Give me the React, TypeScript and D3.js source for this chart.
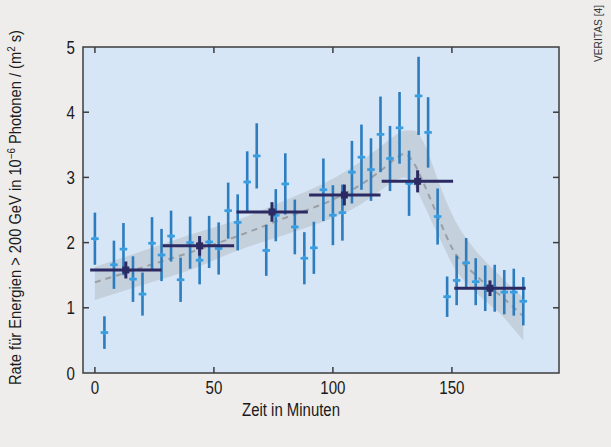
import React from "react";
import * as d3 from "d3";

// Light (4-minute) measurements
const lightTime = [0, 4, 8, 12, 16, 20, 24, 28, 32, 36, 40, 44, 48, 52, 56, 60, 64, 68, 72, 76, 80, 84, 88, 92, 96, 100, 104, 108, 112, 116, 120, 124, 128, 132, 136, 140, 144, 148, 152, 156, 160, 164, 168, 172, 176, 180];
const lightRate = [2.06, 0.62, 1.66, 1.90, 1.44, 1.21, 1.99, 1.81, 2.10, 1.43, 2.00, 1.73, 2.01, 1.91, 2.49, 2.31, 2.93, 3.33, 1.88, 2.42, 2.90, 2.24, 1.76, 1.92, 2.81, 2.42, 2.46, 3.08, 3.31, 3.12, 3.66, 3.29, 3.76, 2.91, 4.25, 3.69, 2.40, 1.17, 1.42, 1.69, 1.40, 1.30, 1.30, 1.24, 1.24, 1.10];
const lightErr = [0.40, 0.25, 0.37, 0.40, 0.35, 0.33, 0.40, 0.40, 0.39, 0.34, 0.40, 0.37, 0.40, 0.40, 0.43, 0.43, 0.47, 0.50, 0.39, 0.40, 0.47, 0.42, 0.40, 0.40, 0.48, 0.46, 0.43, 0.48, 0.50, 0.48, 0.58, 0.50, 0.55, 0.50, 0.60, 0.54, 0.43, 0.31, 0.38, 0.38, 0.36, 0.35, 0.36, 0.34, 0.36, 0.37];

// Dark (30-minute) bins
const binTime = [13, 44, 74.4, 104.8, 135.6, 166];
const binStart = [-2, 28.5, 59.5, 90, 120.5, 151];
const binEnd = [28, 58.5, 89.5, 120, 150.5, 181];
const binRate = [1.58, 1.95, 2.47, 2.73, 2.94, 1.30];
const binErr = [0.13, 0.15, 0.15, 0.16, 0.17, 0.12];

// Model curve with uncertainty band
const modelTime = [0, 20, 40, 60, 80, 100, 110, 120, 126, 130, 134, 138, 142, 146, 150, 160, 170, 180];
const modelRate = [1.39, 1.62, 1.85, 2.10, 2.38, 2.66, 2.85, 3.10, 3.28, 3.36, 3.22, 2.92, 2.58, 2.24, 1.92, 1.50, 1.20, 0.87];
const modelLow = [1.12, 1.35, 1.58, 1.88, 2.12, 2.38, 2.55, 2.80, 2.95, 3.00, 2.88, 2.60, 2.28, 1.98, 1.68, 1.24, 0.92, 0.50];
const modelHigh = [1.63, 1.87, 2.12, 2.35, 2.65, 2.98, 3.20, 3.47, 3.64, 3.72, 3.72, 3.55, 3.18, 2.78, 2.44, 1.88, 1.50, 1.15];

const xTicks = [0, 50, 100, 150];
const yTicks = [0, 1, 2, 3, 4, 5];

const W = 611;
const H = 447;
const left = 83;
const top = 47;
const right = 559;
const bottom = 373;

const FONT = "'Liberation Sans', Arial, sans-serif";

function Narrow(props: { x: number; y: number; anchor: string; size: number; sx?: number; children: any }) {
  const sx = props.sx ?? 0.84;
  return (
    <g transform={`translate(${props.x},${props.y}) scale(${sx},1)`}>
      <text x={0} y={0} textAnchor={props.anchor} fontSize={props.size} fill="#1a1a1a">
        {props.children}
      </text>
    </g>
  );
}

export default function App() {
  const x = d3.scaleLinear().domain([-5, 195]).range([left, right]);
  const y = d3.scaleLinear().domain([0, 5]).range([bottom, top]);

  const modelPts = modelTime.map((t, i) => ({ t, v: modelRate[i], lo: modelLow[i], hi: modelHigh[i] }));
  const area = d3
    .area<any>()
    .x((d) => x(d.t))
    .y0((d) => y(d.lo))
    .y1((d) => y(d.hi))
    .curve(d3.curveMonotoneX);
  const line = d3
    .line<any>()
    .x((d) => x(d.t))
    .y((d) => y(d.v))
    .curve(d3.curveMonotoneX);

  const tickLen = 6;
  const axisColor = "#3c3c3c";
  const lightBar = "#2c7cbe";
  const lightMark = "#3a9de0";
  const dark = "#2c2a62";

  return (
    <svg
      width={W}
      height={H}
      style={{ position: "absolute", left: 0, top: 0, fontFamily: FONT }}
    >
      <rect x={0} y={0} width={W} height={H} fill="#eeedeb" />
      <rect x={left} y={top} width={right - left} height={bottom - top} fill="#d6e6f6" />

      {/* model band and line */}
      <path d={area(modelPts) || ""} fill="#a9aeb3" opacity={0.38} />
      <path
        d={line(modelPts) || ""}
        fill="none"
        stroke="#9a9fa5"
        strokeWidth={2}
        strokeDasharray="6 5"
      />

      {/* light points */}
      {lightTime.map((t, i) => (
        <g key={"l" + i}>
          <line
            x1={x(t)}
            x2={x(t)}
            y1={y(lightRate[i] - lightErr[i])}
            y2={y(lightRate[i] + lightErr[i])}
            stroke={lightBar}
            strokeWidth={2.6}
          />
          <line
            x1={x(t - 1.6)}
            x2={x(t + 1.6)}
            y1={y(lightRate[i])}
            y2={y(lightRate[i])}
            stroke={lightMark}
            strokeWidth={2.6}
          />
          <circle cx={x(t)} cy={y(lightRate[i])} r={2.2} fill={lightMark} />
        </g>
      ))}

      {/* dark bins */}
      {binTime.map((t, i) => (
        <g key={"b" + i}>
          <line
            x1={x(binStart[i])}
            x2={x(binEnd[i])}
            y1={y(binRate[i])}
            y2={y(binRate[i])}
            stroke={dark}
            strokeWidth={3}
          />
          <line
            x1={x(t)}
            x2={x(t)}
            y1={y(binRate[i] - binErr[i])}
            y2={y(binRate[i] + binErr[i])}
            stroke={dark}
            strokeWidth={3}
          />
          <rect x={x(t) - 3.5} y={y(binRate[i]) - 3.5} width={7} height={7} fill={dark} />
        </g>
      ))}

      {/* frame */}
      <rect
        x={left}
        y={top}
        width={right - left}
        height={bottom - top}
        fill="none"
        stroke={axisColor}
        strokeWidth={1.5}
      />
      {xTicks.map((t) => (
        <g key={"xt" + t}>
          <line x1={x(t)} x2={x(t)} y1={bottom} y2={bottom - tickLen} stroke={axisColor} strokeWidth={1.5} />
          <line x1={x(t)} x2={x(t)} y1={top} y2={top + tickLen} stroke={axisColor} strokeWidth={1.5} />
          <Narrow x={x(t)} y={y(0) + 21} anchor="middle" size={18}>
            {t}
          </Narrow>
        </g>
      ))}
      {yTicks.map((v) => (
        <g key={"yt" + v}>
          {v > 0 && v < 5 && (
            <>
              <line x1={left} x2={left + tickLen} y1={y(v)} y2={y(v)} stroke={axisColor} strokeWidth={1.5} />
              <line x1={right} x2={right - tickLen} y1={y(v)} y2={y(v)} stroke={axisColor} strokeWidth={1.5} />
            </>
          )}
          <Narrow x={left - 8} y={y(v) + 6.5} anchor="end" size={18}>
            {v}
          </Narrow>
        </g>
      ))}

      <text
        x={291}
        y={416}
        textAnchor="middle"
        fontSize={18}
        fill="#1a1a1a"
        textLength={98}
        lengthAdjust="spacingAndGlyphs"
      >
        Zeit in Minuten
      </text>

      <text
        transform="translate(20.5,207.5) rotate(-90)"
        textAnchor="middle"
        fontSize={16.5}
        fill="#1a1a1a"
        textLength={355}
        lengthAdjust="spacingAndGlyphs"
      >
        Rate für Energien &gt; 200 GeV in 10
        <tspan fontSize={11} dy={-6}>−6</tspan>
        <tspan dy={6}> Photonen / (m</tspan>
        <tspan fontSize={11} dy={-6}>2</tspan>
        <tspan dy={6}> s)</tspan>
      </text>

      <text
        transform="translate(602,33.5) rotate(-90)"
        textAnchor="middle"
        fontSize={10}
        fill="#333"
        textLength={57}
        lengthAdjust="spacingAndGlyphs"
      >
        VERITAS [4]
      </text>
    </svg>
  );
}
